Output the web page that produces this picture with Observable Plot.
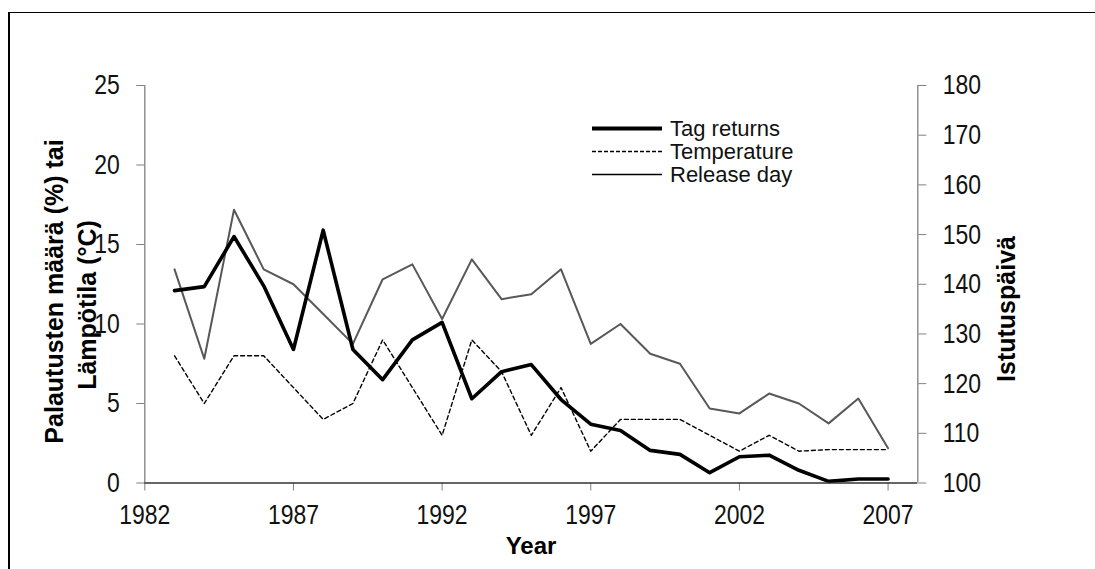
<!DOCTYPE html>
<html>
<head>
<meta charset="utf-8">
<script src="https://cdn.jsdelivr.net/npm/d3@7"></script>
<script src="https://cdn.jsdelivr.net/npm/@observablehq/plot@0.6"></script>
<style>
  html, body { margin: 0; padding: 0; background: #fff; width: 1095px; height: 569px; overflow: hidden; }
  #frame { position: absolute; left: 8px; top: 12px; width: 1200px; height: 700px;
           border-left: 2px solid #000; border-top: 1px solid #000; }
  #chart { position: absolute; left: 0; top: 0; }
  #overlay { position: absolute; left: 0; top: 0; pointer-events: none; }
  #chart svg g[aria-label="y-axis tick"], #chart svg g[aria-label="x-axis tick"] { stroke: #808080; }
  #chart svg g[aria-label="y-axis tick label"], #chart svg g[aria-label="x-axis tick label"] { fill: #111; }
</style>
</head>
<body>
<div id="frame"></div>
<div id="chart"></div>
<svg id="overlay" width="1095" height="569"></svg>
<script>
// ---- data ----
const years = [1983,1984,1985,1986,1987,1988,1989,1990,1991,1992,1993,1994,1995,1996,1997,1998,1999,2000,2001,2002,2003,2004,2005,2006,2007];
const tagReturns = [12.1,12.35,15.5,12.4,8.4,15.9,8.4,6.5,9.0,10.1,5.3,7.0,7.45,5.25,3.7,3.3,2.05,1.8,0.65,1.65,1.75,0.8,0.1,0.25,0.25];
const temperature = [8,5,8,8,6,4,5,9,6,3,9,7,3,6,2,4,4,4,3,2,3,2,2.1,2.1,2.1];
const releaseDay = [143,125,155,143,140,134,128,141,144,133,145,137,138,143,128,132,126,124,115,114,118,116,112,117,107];
const xTicks = [1982,1987,1992,1997,2002,2007];
const leftTicks = [0,5,10,15,20,25];
const rightTicks = [100,110,120,130,140,150,160,170,180];
const seriesNames = ["Tag returns","Temperature","Release day"];
const leftTitle = ["Palautusten määrä (%) tai", "Lämpötila (°C)"];
const rightTitle = "Istutuspäivä";
const xTitle = "Year";

// map right axis (100..180) to left scale (0..25)
const toLeft = r => (r - 100) * 25 / 80;
const fromLeft = v => 100 + v * 80 / 25;

const rows = years.map((y, i) => ({year: y, tag: tagReturns[i], temp: temperature[i], rel: releaseDay[i]}));

const tickFont = "'Liberation Sans',Arial,sans-serif";

const chart = Plot.plot({
  width: 1095,
  height: 569,
  marginLeft: 144.3,
  marginRight: 177.7,
  marginTop: 85,
  marginBottom: 86.5,
  style: {fontFamily: tickFont, fontSize: "28px", background: "transparent", overflow: "visible"},
  x: {domain: [1982, 2008]},
  y: {domain: [0, 25]},
  marks: [
    Plot.ruleX([1982], {stroke: "#808080", strokeWidth: 1.3}),
    Plot.ruleX([2008], {stroke: "#808080", strokeWidth: 1.3}),
    Plot.axisX(xTicks, {anchor: "bottom", tickSize: 8, tickPadding: 13, tickFormat: d => String(d), label: null, fontSize: 28}),
    Plot.axisY(leftTicks, {anchor: "left", tickSize: 8, tickPadding: 17, tickFormat: d => String(d), label: null, fontSize: 28}),
    Plot.axisY(rightTicks.map(toLeft), {anchor: "right", tickSize: 8, tickPadding: 17, tickFormat: d => String(Math.round(fromLeft(d))), label: null, fontSize: 28}),
    Plot.line(rows, {x: "year", y: d => toLeft(d.rel), stroke: "#585858", strokeWidth: 2}),
    Plot.line(rows, {x: "year", y: "temp", stroke: "#000", strokeWidth: 1.4, strokeDasharray: "4,3"}),
    Plot.line(rows, {x: "year", y: "tag", stroke: "#000", strokeWidth: 3.6}),
    Plot.ruleY([0], {stroke: "#333", strokeWidth: 1.5})
  ]
});
document.getElementById("chart").appendChild(chart);

// condense tick labels horizontally (reference uses a narrow face)
d3.select(chart).selectAll('g[aria-label="x-axis tick label"] text, g[aria-label="y-axis tick label"] text')
  .each(function() {
    const t = this.getAttribute("transform") || "";
    this.setAttribute("transform", t + " scale(0.82,1)");
  });

// ---- titles and legend ----
const ov = d3.select("#overlay");
const titleFont = "'Liberation Sans',Arial,sans-serif";

ov.append("text").attr("x", 531).attr("y", 554).attr("text-anchor", "middle")
  .attr("font-family", titleFont).attr("font-weight", "bold").attr("font-size", 24).text(xTitle);

const lt = [[54, 291.5], [87, 305]];
leftTitle.forEach((t, i) => {
  ov.append("text").attr("transform", `translate(${lt[i][0]},${lt[i][1]}) rotate(-90)`)
    .attr("text-anchor", "middle").attr("dominant-baseline", "central")
    .attr("font-family", titleFont).attr("font-weight", "bold").attr("font-size", 25).text(t);
});
ov.append("text").attr("transform", `translate(1006,309) rotate(-90)`)
  .attr("text-anchor", "middle").attr("dominant-baseline", "central")
  .attr("font-family", titleFont).attr("font-weight", "bold").attr("font-size", 25).text(rightTitle);

const legendStyles = [
  {w: 4, dash: null, color: "#000"},
  {w: 1.3, dash: "4,2", color: "#000"},
  {w: 1.5, dash: null, color: "#000"}
];
const baselines = [136, 159, 182];
seriesNames.forEach((name, i) => {
  const ly = baselines[i] - 7.5;
  const ln = ov.append("line").attr("x1", 592).attr("x2", 662).attr("y1", ly).attr("y2", ly)
    .attr("stroke", legendStyles[i].color).attr("stroke-width", legendStyles[i].w);
  if (legendStyles[i].dash) ln.attr("stroke-dasharray", legendStyles[i].dash);
  ov.append("text").attr("x", 670).attr("y", baselines[i])
    .attr("font-family", titleFont).attr("font-size", 22).attr("fill", "#111").text(name);
});
</script>
</body>
</html>
